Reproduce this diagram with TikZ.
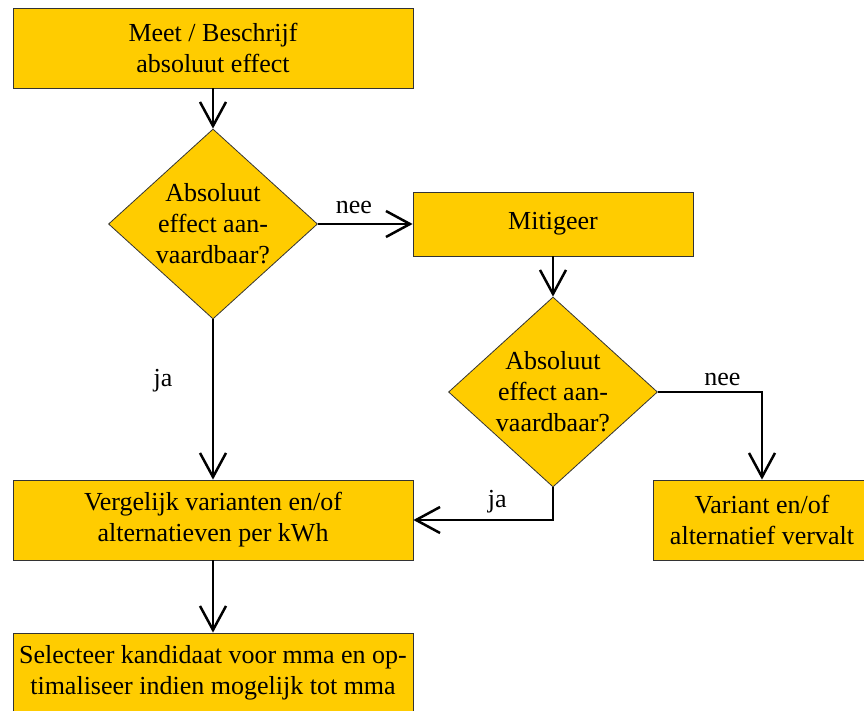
\documentclass[tikz,border=0pt]{standalone}
\usepackage{fontspec}
\setmainfont{Liberation Serif}
\usetikzlibrary{shapes.geometric,arrows.meta,positioning}

\definecolor{flowgold}{HTML}{FFCC00}
\tikzset{
  stepbox/.style={rectangle,draw=black!80,line width=0.8pt,fill=flowgold,
    inner sep=0pt,align=center,font=\fontsize{26}{31}\selectfont},
  decision/.style={diamond,draw=black!80,line width=0.8pt,fill=flowgold,
    inner sep=0pt,minimum width=209pt,minimum height=190pt},
  asktext/.style={align=center,inner sep=0pt,font=\fontsize{26}{31}\selectfont},
  flow/.style={line width=2.5pt,-{Straight Barb[length=24pt,width=26pt,line width=2.5pt]}},
  answer/.style={font=\fontsize{26}{31}\selectfont}
}

\begin{document}
\begin{tikzpicture}[x=1pt,y=-1pt]
                \useasboundingbox (0,0) rectangle (864,711);
                \node[stepbox,minimum width=400pt,minimum height=80pt] (meet) at (213,48) {Meet / Beschrijf\\absoluut effect};
                \node[decision] (q1) at (213,224) {};
                \node[asktext] (q1t) at (q1) {Absoluut\\effect aan-\\vaardbaar?};
                \node[stepbox,minimum width=280pt,minimum height=64pt] (mit) at (553,224) {Mitigeer};
                \node[decision] (q2) at (553,392) {};
                \node[asktext] (q2t) at (q2) {Absoluut\\effect aan-\\vaardbaar?};
                \node[stepbox,minimum width=400pt,minimum height=80pt] (cmp) at (213,520) {Vergelijk varianten en/of\\alternatieven per kWh};
                \node[stepbox,minimum width=218pt,minimum height=80pt] (drop) at (762,520) {Variant en/of\\alternatief vervalt};
                \node[stepbox,minimum width=400pt,minimum height=80pt] (sel) at (213,673) {Selecteer kandidaat voor mma en op-\\timaliseer indien mogelijk tot mma};
                \draw[flow] (meet) -- (q1);
                \draw[flow] (q1) -- node[answer,above=6pt,pos=0.38] {nee} (mit);
                \draw[flow] (q1) -- node[answer,left=36pt,pos=0.38] {ja} (cmp);
                \draw[flow] (mit) -- (q2);
                \draw[flow] (q2) -| node[answer,above=2pt,pos=0.31] {nee} (drop);
                \draw[flow] (q2) |- node[answer,above=2pt,pos=0.7] {ja} (cmp);
                \draw[flow] (cmp) -- (sel);
            \end{tikzpicture}
\end{document}
